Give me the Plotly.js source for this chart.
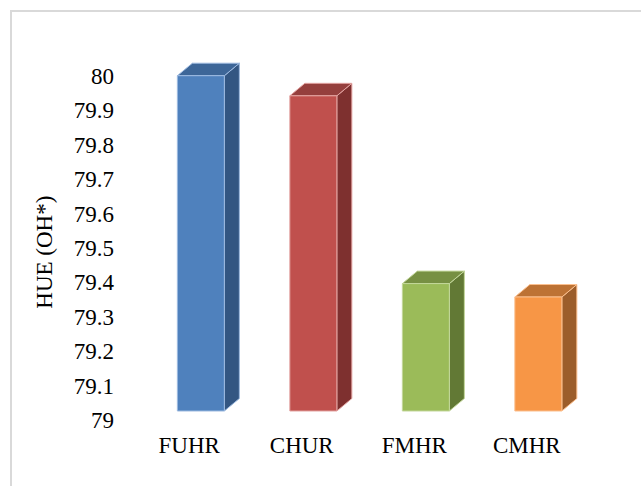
<!DOCTYPE html>
<html>
<head>
<meta charset="utf-8">
<script src="https://cdn.plot.ly/plotly-3.0.1.min.js"></script>
<style>
  html, body { margin:0; padding:0; background:#ffffff; }
  #wrap { position:relative; width:641px; height:486px; overflow:hidden; }
  #frame { position:absolute; left:10px; top:10px; width:700px; height:600px;
           border-top:2px solid #d9d9d9; border-left:2px solid #d9d9d9; }
  #chart { position:absolute; left:0; top:0; width:641px; height:486px; }
</style>
</head>
<body>
<div id="wrap">
  <div id="frame"></div>
  <div id="chart"></div>
</div>
<script>
// ---- data ----
const categories = ["FUHR", "CHUR", "FMHR", "CMHR"];
const values = [80.00, 79.94, 79.38, 79.34];
const yTickVals = [79, 79.1, 79.2, 79.3, 79.4, 79.5, 79.6, 79.7, 79.8, 79.9, 80];
const yTickText = ["79", "79.1", "79.2", "79.3", "79.4", "79.5", "79.6", "79.7", "79.8", "79.9", "80"];
const yTitle = "HUE (OH*)";

// ---- styles ----
const frontColors = ["#4f81bd", "#c0504d", "#9bbb59", "#f79646"];
const topColors   = ["#3d6698", "#953f3d", "#779043", "#bd7234"];
const sideColors  = ["#335682", "#7e302f", "#627935", "#9c5d2a"];
const edgeColors  = ["#9dbae0", "#e3a3a1", "#c3d79b", "#fbbf8e"];

const W = 641, H = 486;
const L = 133, R = 58, T = 7, B = 66;
const plotH = H - T - B;
const yMin = 79, yMax = 80.2;
const frontBasePx = 411, front80Px = 75.7;
const pxPerUnit2 = (frontBasePx - front80Px);
const y2Min = 79 - ((H - B) - frontBasePx) / pxPerUnit2;
const y2Max = 80 + (front80Px - T) / pxPerUnit2;
const baseVal = 79;

const xMin = -0.5, xMax = 3.5;
const pxPerCat = (W - L - R) / (xMax - xMin);
const halfW = 23.5 / pxPerCat;
const shift = 11.6 / pxPerCat;
const dx = 15 / pxPerCat;
const dy = 12.5 / pxPerUnit2;

const traces = [];
traces.push({ type: "scatter", mode: "markers", x: [null], y: [null], xaxis: "x", yaxis: "y",
              showlegend: false, hoverinfo: "skip" });
categories.forEach((c, i) => {
  const v = values[i];
  const x0 = i + shift - halfW, x1 = i + shift + halfW;
  const common = { type: "scatter", mode: "lines", fill: "toself", hoverinfo: "skip",
                   showlegend: false, xaxis: "x", yaxis: "y2" };
  traces.push(Object.assign({}, common, {
    x: [x1, x1 + dx, x1 + dx, x1, x1],
    y: [baseVal, baseVal + dy, v + dy, v, baseVal],
    fillcolor: sideColors[i], line: { color: edgeColors[i], width: 1 }
  }));
  traces.push(Object.assign({}, common, {
    x: [x0, x1, x1 + dx, x0 + dx, x0],
    y: [v, v, v + dy, v + dy, v],
    fillcolor: topColors[i], line: { color: edgeColors[i], width: 1 }
  }));
  traces.push(Object.assign({}, common, {
    x: [x0, x1, x1, x0, x0],
    y: [baseVal, baseVal, v, v, baseVal],
    fillcolor: frontColors[i], line: { color: edgeColors[i], width: 1 }
  }));
});

const FAMILY = "Liberation Serif";
function mkFont() { return { family: FAMILY, size: 23, color: "#000000" }; }

const layout = {
  width: W, height: H,
  margin: { l: L, r: R, t: T, b: B, pad: 0 },
  paper_bgcolor: "rgba(0,0,0,0)",
  plot_bgcolor: "rgba(0,0,0,0)",
  font: mkFont(),
  showlegend: false,
  xaxis: {
    range: [xMin, xMax], tickvals: [0, 1, 2, 3], ticktext: categories,
    showgrid: false, zeroline: false, showline: false, ticks: "",
    tickfont: mkFont(), ticklabelstandoff: 9, fixedrange: true
  },
  yaxis: {
    range: [yMin, yMax], tickvals: yTickVals, ticktext: yTickText,
    showgrid: false, zeroline: false, showline: false, ticks: "",
    tickfont: mkFont(), ticklabelstandoff: 18, fixedrange: true
  },
  yaxis2: {
    range: [y2Min, y2Max], overlaying: "y", visible: false, fixedrange: true
  },
  annotations: [{
    text: yTitle, textangle: -90, showarrow: false,
    xref: "paper", yref: "paper",
    x: (45 - L) / (W - L - R), y: 1 - (252.7 - T) / plotH,
    xanchor: "center", yanchor: "middle",
    font: mkFont()
  }]
};

Plotly.newPlot("chart", traces, layout, { staticPlot: true, displayModeBar: false });
</script>
</body>
</html>
